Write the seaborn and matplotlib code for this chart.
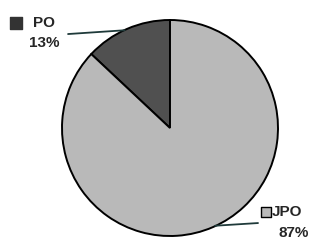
import numpy as np
import matplotlib
matplotlib.use("Agg")
import matplotlib.pyplot as plt
import seaborn as sns

# data
labels = ["PO", "JPO"]
shares = [13, 87]
colors = ["#505050", "#b9b9b9"]

sns.set_style("white")
plt.rcParams['font.family'] = ['Liberation Sans', 'DejaVu Sans']
plt.rcParams['font.weight'] = 'bold'

fig = plt.figure(figsize=(3.14, 2.42), dpi=100)
ax = fig.add_axes([62 / 314, 6 / 242, 216 / 314, 216 / 242])

wedges, _ = ax.pie(shares, colors=colors, startangle=90, counterclock=True,
                   wedgeprops=dict(edgecolor="black", linewidth=1.4))
ax.set_xlim(-1, 1)
ax.set_ylim(-1, 1)
ax.set_aspect("equal")
ax.axis("off")

# leader lines
ax.plot([-0.944, -0.42], [0.87, 0.905], color="#1f3a3a", lw=1.3, clip_on=False)
ax.plot([0.815, 0.417], [-0.88, -0.905], color="#1f3a3a", lw=1.3, clip_on=False)

# label keys
ax.scatter([-1.426], [0.972], marker="s", s=80, color="#333333",
           edgecolor="#333333", clip_on=False)
ax.scatter([0.889], [-0.778], marker="s", s=60, color=colors[1],
           edgecolor="black", linewidth=1, clip_on=False)

fs = 11
ax.text(-1.269, 0.975, labels[0], ha="left", va="center", fontsize=fs, fontweight="bold")
ax.text(-1.167, 0.787, f"{shares[0]}%", ha="center", va="center", fontsize=fs, fontweight="bold")
ax.text(0.944, -0.778, labels[1], ha="left", va="center", fontsize=fs, fontweight="bold")
ax.text(1.148, -0.972, f"{shares[1]}%", ha="center", va="center", fontsize=fs, fontweight="bold")

fig.savefig("out.png", dpi=100)
